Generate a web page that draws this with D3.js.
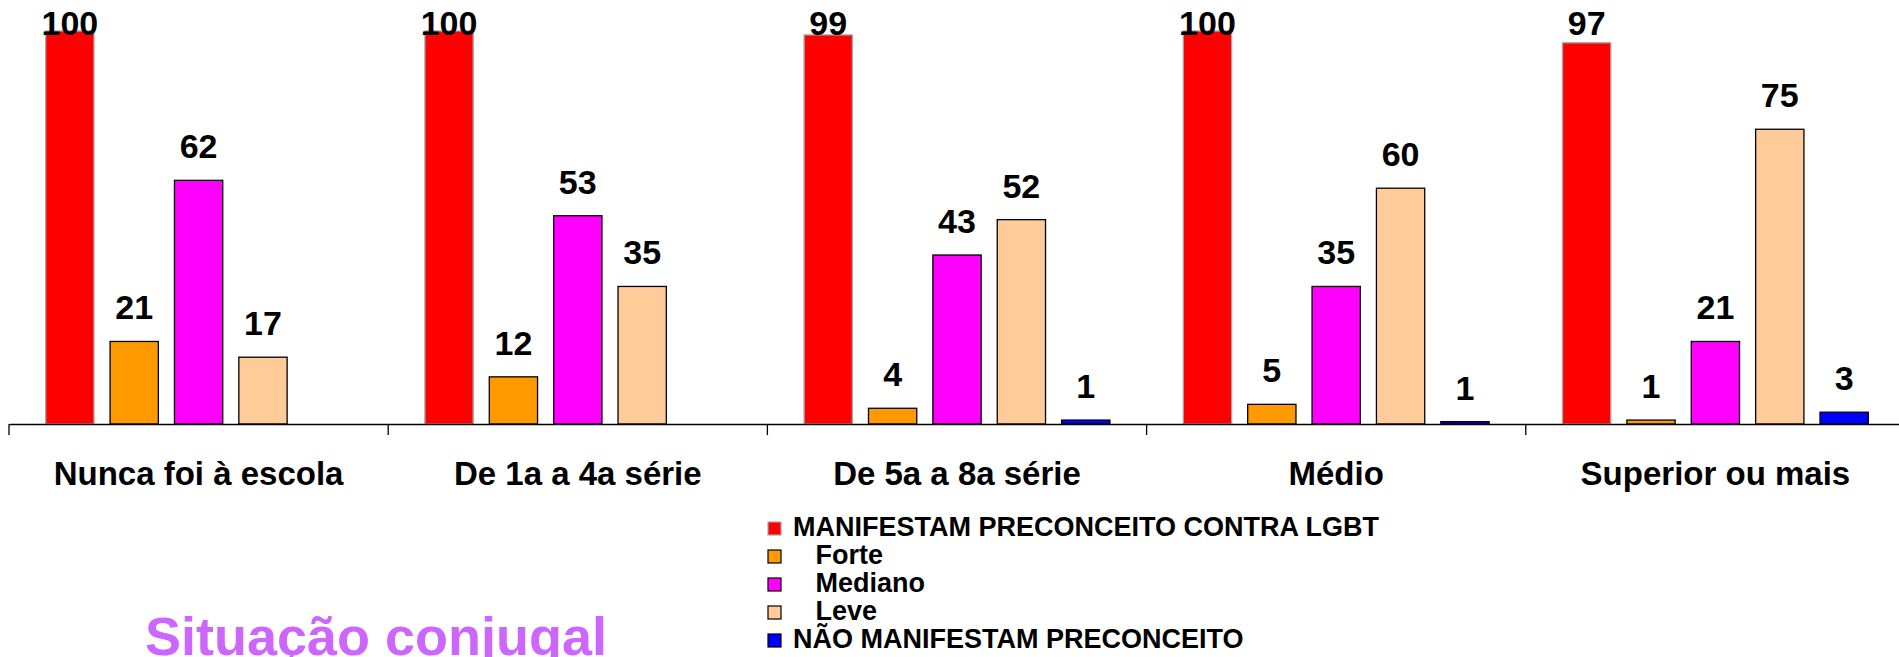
<!DOCTYPE html>
<html>
<head>
<meta charset="utf-8">
<script src="https://cdn.jsdelivr.net/npm/d3@7"></script>
<style>
  html, body { margin: 0; padding: 0; background: #fff; overflow: hidden; }
  svg { display: block; }
  text { font-family: "Liberation Sans", Arial, sans-serif; font-weight: bold; }
</style>
</head>
<body>
<svg id="chart" width="1899" height="657"></svg>
<script>
// ---- data ----
const categories = ["Nunca foi à escola", "De 1a a 4a série", "De 5a a 8a série", "Médio", "Superior ou mais"];
const seriesNames = ["MANIFESTAM PRECONCEITO CONTRA LGBT", "   Forte", "   Mediano", "   Leve", "NÃO MANIFESTAM PRECONCEITO"];
const manifestam = [100, 100, 99, 100, 97];
const forte      = [21, 12, 4, 5, 1];
const mediano    = [62, 53, 43, 35, 21];
const leve       = [17, 35, 52, 60, 75];
const naoManifestam = [null, null, 1, 0.6, 3];
const seriesColors = ["#FF0000", "#FF9900", "#FF00FF", "#FFCC99", "#0000FF"];
const seriesStrokes = ["#A6A6A6", "#000000", "#000000", "#000000", "#000000"];
const title = "Situação conjugal";

const seriesValues = [manifestam, forte, mediano, leve, naoManifestam];

// ---- layout ----
const svg = d3.select("#chart");
const axisY = 424;

const x0 = d3.scaleBand().domain(categories).range([9, 9 + 5 * 379.2]).paddingInner(0).paddingOuter(0);
const x1 = d3.scaleBand().domain(d3.range(seriesNames.length)).range([0, x0.bandwidth()])
  .paddingInner(0.25).paddingOuter(0.57);
const y = d3.scaleLinear().domain([0, 100]).range([axisY, 31]);

const fmt = v => d3.format(".0f")(Math.max(1, v));

// bars
const groups = svg.append("g").selectAll("g").data(categories).join("g")
  .attr("transform", c => `translate(${x0(c)},0)`);

groups.each(function(c, ci) {
  const g = d3.select(this);
  seriesValues.forEach((vals, si) => {
    const v = vals[ci];
    if (v === null || v === undefined) return;
    g.append("rect")
      .attr("x", x1(si))
      .attr("y", y(v))
      .attr("width", x1.bandwidth())
      .attr("height", axisY - y(v))
      .attr("fill", seriesColors[si])
      .attr("stroke", seriesStrokes[si])
      .attr("stroke-width", 1.3);
    g.append("text")
      .attr("x", x1(si) + x1.bandwidth() / 2)
      .attr("y", Math.max(y(v) - 22, 35))
      .attr("text-anchor", "middle")
      .attr("font-size", 34)
      .attr("fill", "#000")
      .text(fmt(v));
  });
});

// axis
const axis = d3.axisBottom(x0).tickSize(0).tickFormat("");
const axG = svg.append("g").attr("transform", `translate(0,${axisY})`).call(axis);
axG.select(".domain").attr("stroke", "#000").attr("stroke-width", 1.3);
const boundaries = categories.map(c => x0(c)).concat([x0.range()[1]]);
axG.selectAll("line.bound").data(boundaries).join("line")
  .attr("class", "bound")
  .attr("x1", d => d).attr("x2", d => d)
  .attr("y1", 0).attr("y2", 11)
  .attr("stroke", "#000").attr("stroke-width", 1.3);

// category labels
svg.append("g").selectAll("text").data(categories).join("text")
  .attr("x", c => x0(c) + x0.bandwidth() / 2)
  .attr("y", 485)
  .attr("text-anchor", "middle")
  .attr("font-size", 33)
  .attr("fill", "#000")
  .text(c => c);

// legend
const legend = svg.append("g").attr("transform", "translate(768,522)");
const rows = legend.selectAll("g").data(seriesNames).join("g")
  .attr("transform", (d, i) => `translate(0,${i * 28})`);
rows.append("rect")
  .attr("x", 0).attr("y", 0).attr("width", 13).attr("height", 13)
  .attr("fill", (d, i) => seriesColors[i])
  .attr("stroke", (d, i) => i === 0 ? "#A6A6A6" : "#000")
  .attr("stroke-width", 1.2);
rows.append("text")
  .attr("x", 25).attr("y", 13.5)
  .attr("font-size", 27)
  .attr("fill", "#000")
  .style("white-space", "pre")
  .text(d => d);

// title
svg.append("text")
  .attr("x", 145).attr("y", 655)
  .attr("font-size", 54)
  .attr("fill", "#CC66FF")
  .text(title);
</script>
</body>
</html>
